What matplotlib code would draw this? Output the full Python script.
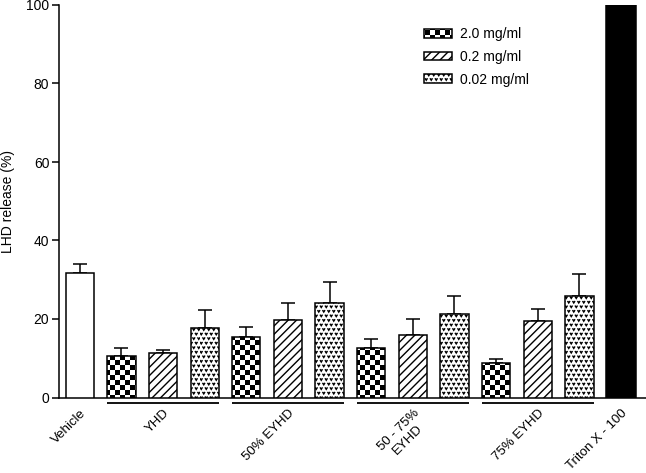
import numpy as np
import matplotlib
matplotlib.use("Agg")
import matplotlib.pyplot as plt
import matplotlib.hatch as mhatch
from matplotlib.path import Path

# values (mean and upper SEM, %)
groups = ["YHD", "50% EYHD", "50 - 75%\nEYHD", "75% EYHD"]
doses = ["2.0 mg/ml", "0.2 mg/ml", "0.02 mg/ml"]
vehicle_mean = 31.6
vehicle_err = 2.3
triton_mean = 100.0
dose_2_0 = [10.5, 15.4, 12.6, 8.9]
dose_2_0_err = [2.1, 2.5, 2.2, 1.0]
dose_0_2 = [11.4, 19.7, 15.8, 19.6]
dose_0_2_err = [0.8, 4.4, 4.3, 2.9]
dose_0_02 = [17.8, 24.2, 21.2, 25.8]
dose_0_02_err = [4.5, 5.1, 4.6, 5.7]


# Prism-like fill patterns: checkerboard ('o') and small v marks ('.')
class CheckerHatch(mhatch.HatchPatternBase):
    def __init__(self, hatch, density):
        self.n = 20 if "o" in hatch else 0
        self.num_vertices = (self.n * self.n // 2) * 5

    def set_vertices_and_codes(self, vertices, codes):
        n = self.n
        step = 1.0 / n
        inset = 0.007
        sq = np.array([[inset, inset], [step - inset, inset], [step - inset, step - inset],
                       [inset, step - inset], [inset, inset]])
        parts = [sq + [i * step, j * step] for i in range(n) for j in range(n) if (i + j) % 2 == 0]
        vertices[:] = np.concatenate(parts)
        codes[:] = np.tile([Path.MOVETO, Path.LINETO, Path.LINETO, Path.LINETO, Path.CLOSEPOLY],
                           len(parts))


class VeeHatch(mhatch.HatchPatternBase):
    def __init__(self, hatch, density):
        self.nc = 20 if "." in hatch else 0
        self.nr = 22 if "." in hatch else 0
        self.num_vertices = self.nc * self.nr * 3

    def set_vertices_and_codes(self, vertices, codes):
        w, h = 0.009, 0.007
        vee = np.array([[-w, h], [0, -h], [w, h]])
        parts = []
        for r in range(self.nr):
            y = (r + 0.5) / self.nr
            for c in range(self.nc):
                x = (c + 0.25 + 0.5 * (r % 2)) / self.nc
                parts.append(vee + [x, y])
        vertices[:] = np.concatenate(parts)
        codes[:] = np.tile([Path.MOVETO, Path.LINETO, Path.LINETO], len(parts))


mhatch._hatch_types = [mhatch.NorthEastHatch, CheckerHatch, VeeHatch]

plt.rcParams["font.family"] = ["Liberation Sans", "DejaVu Sans"]
plt.rcParams["font.size"] = 10
plt.rcParams["hatch.linewidth"] = 1.0
plt.rcParams["hatch.color"] = "black"

fig = plt.figure(figsize=(6.46, 4.73), dpi=100)
ax = fig.add_axes([59 / 646, 75.5 / 473, 587 / 646, 392.5 / 473])

width = 0.68
lw = 1.1
ng = len(groups)
base = 1 + 3 * np.arange(ng)
series = [(dose_2_0, dose_2_0_err, "oo"), (dose_0_2, dose_0_2_err, "////"), (dose_0_02, dose_0_02_err, "..")]

ax.bar(0, vehicle_mean, width, color="white", edgecolor="black", linewidth=lw, zorder=3)
ax.errorbar(0, vehicle_mean, yerr=[[0], [vehicle_err]], fmt="none", ecolor="black",
            elinewidth=lw, capsize=4.7, capthick=lw, zorder=2)

for k, (vals, errs, hatch) in enumerate(series):
    x = base + k
    ax.bar(x, vals, width, color="white", edgecolor="black", linewidth=lw, hatch=hatch,
           label=doses[k], zorder=3)
    ax.errorbar(x, vals, yerr=[np.zeros(ng), errs], fmt="none", ecolor="black",
                elinewidth=lw, capsize=4.7, capthick=lw, zorder=2)

triton_x = base[-1] + 3
ax.bar(triton_x, triton_mean, 0.72, color="black", edgecolor="black", linewidth=lw, zorder=3)

# group underlines below the axis
for b in base:
    ax.plot([b - width / 2, b + 2 + width / 2], [-0.015, -0.015], color="black", lw=1.3,
            transform=ax.get_xaxis_transform(), clip_on=False, solid_capstyle="butt")

ax.set_xlim(-0.5, 13.6)
ax.set_ylim(0, 100)
ax.set_yticks(np.arange(0, 101, 20))
ax.set_xticks(np.concatenate([[0], base + 1, [triton_x]]))
ax.set_xticklabels(["Vehicle"] + groups + ["Triton X - 100"])
plt.setp(ax.get_xticklabels(), rotation=45, ha="right", rotation_mode="anchor",
         multialignment="center", fontsize=9.5)
ax.tick_params(axis="x", length=0, pad=7)
ax.tick_params(axis="y", length=5, width=lw, pad=2, direction="out")

for s in ["top", "right"]:
    ax.spines[s].set_visible(False)
for s in ["left", "bottom"]:
    ax.spines[s].set_linewidth(lw)

ax.set_ylabel("LHD release (%)", labelpad=8)

ax.legend(loc="upper left", bbox_to_anchor=(0.622, 0.943), frameon=False, borderpad=0,
          borderaxespad=0, handlelength=2.0, handleheight=0.6, handletextpad=0.6,
          labelspacing=0.62)

fig.savefig("out.png", dpi=100)
